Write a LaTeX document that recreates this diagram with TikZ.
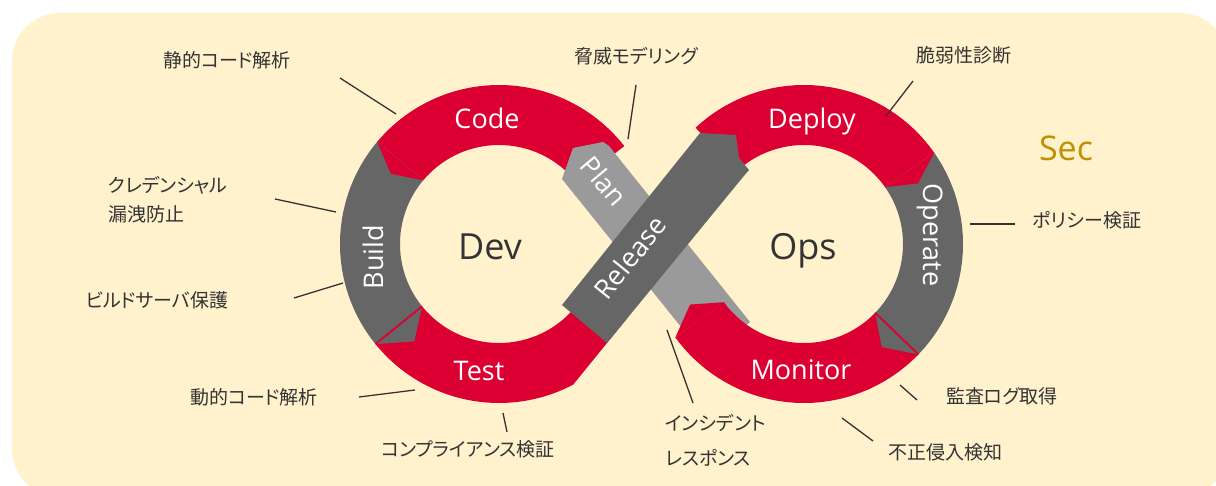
\documentclass[tikz,border=0pt]{standalone}
\usepackage{fontspec}
\setmainfont{Open Sans}
\newfontfamily\jpfont[RawFeature=+palt]{Noto Sans CJK JP}

\definecolor{panel}{HTML}{FFF2CC}
\definecolor{segred}{HTML}{DC0032}
\definecolor{darkseg}{HTML}{666666}
\definecolor{lightseg}{HTML}{9A9A9A}
\definecolor{ink}{HTML}{333333}
\definecolor{gold}{HTML}{BF9000}

% ring geometry: inner radius 99, outer radius 159, middle 129
% annular sector: centre x, centre y, from angle, to angle, colour
\newcommand\ringarc[5]{%
  \fill[#5] plot[domain=#3:#4,samples=60] ({#1+159*cos(\x)},{#2-159*sin(\x)})
    -- plot[domain=#4:#3,samples=60] ({#1+99*cos(\x)},{#2-99*sin(\x)}) -- cycle;}
% chevron head: centre x, centre y, base angle, tip angle, colour
\newcommand\ringhead[5]{%
  \fill[#5] ({#1+159*cos(#3)},{#2-159*sin(#3)}) -- ({#1+129*cos(#4)},{#2-129*sin(#4)})
    -- ({#1+99*cos(#3)},{#2-99*sin(#3)}) -- cycle;}
% thin seam line across the ring at a given angle
\newcommand\ringseam[3]{%
  \draw[segred,line width=1.8pt] ({#1+159*cos(#3)},{#2-159*sin(#3)}) -- ({#1+99*cos(#3)},{#2-99*sin(#3)});}

\tikzset{
  seglabel/.style={text=white,font=\fontsize{27}{30}\selectfont,inner sep=0pt},
  hublabel/.style={text=ink,font=\fontsize{36}{40}\selectfont,inner sep=0pt},
  note/.style={text=ink,font=\jpfont\fontsize{19}{22}\selectfont,inner sep=0pt},
  leader/.style={draw=ink,line width=1.3pt},
}

\begin{document}
\begin{tikzpicture}[x=1pt,y=-1pt]
\useasboundingbox (0,0) rectangle (1216,486);
\fill[white] (0,0) rectangle (1216,486);
\begin{scope}
  \clip (0,0) rectangle (1216,486);
  \fill[panel,rounded corners=48pt] (12,13) rectangle (1228,497);
\end{scope}

% Dev ring
\ringarc{499}{244}{38}{140}{segred}    % Code
\ringarc{499}{244}{140}{219}{darkseg}  % Build
\begin{scope}
  \clip (922.5,-45) -- (291.5,731) -- (-96.5,415.5) -- (534.5,-360.5) -- cycle;
  \ringarc{499}{244}{219}{330}{segred} % Test
\end{scope}

% Ops ring
\ringarc{804}{244}{35}{133}{segred}    % Deploy
\ringarc{804}{244}{-44}{35}{darkseg}   % Operate

% Plan band
\fill[lightseg] (706,358) -- (750,322) -- (609,146) -- (603,142) -- (573,148) -- (562,179) -- cycle;

\ringarc{804}{244}{-144}{-44}{segred}  % Monitor

% arrow heads between stages
\ringhead{499}{244}{140}{147}{segred}
\ringhead{499}{244}{219}{229}{darkseg}
\ringseam{499}{244}{219}
\ringhead{804}{244}{35}{28}{segred}
\ringhead{804}{244}{-44}{-53}{darkseg}
\ringseam{804}{244}{-44}
\ringhead{804}{244}{-144}{-152}{segred}

% Release band
\fill[darkseg] (562,305) -- (700,133) -- (736,135) -- (739,158) -- (749,170) -- (743,177) -- (607,343) -- cycle;

% stage labels
\node[seglabel,anchor=base] (code) at (487,129) {Code};
\node[seglabel,anchor=base] (test) at (479,381) {Test};
\node[seglabel,anchor=base,rotate=90] (build) at (383,257) {Build};
\node[seglabel,anchor=base] (deploy) at (812,129) {Deploy};
\node[seglabel,anchor=base] (monitor) at (801,380) {Monitor};
\node[seglabel,anchor=base,rotate=-90] (operate) at (923,235) {Operate};
\node[seglabel,rotate=-50] (plan) at (604,181) {Plan};
\node[seglabel,rotate=51] (release) at (630,257) {Release};

\node[hublabel,anchor=base] (dev) at (490,260) {Dev};
\node[hublabel,anchor=base] (ops) at (803,260) {Ops};
\node[text=gold,font=\fontsize{34}{38}\selectfont,inner sep=0pt,anchor=base] (sec) at (1066,161) {Sec};

% security practices
\node[note] (sast) at (227,60) {静的コード解析};
\node[note] (threat) at (636,56) {脅威モデリング};
\node[note] (vuln) at (964,55) {脆弱性診断};
\node[note] (policy) at (1087,220) {ポリシー検証};
\node[note] (audit) at (1002,396) {監査ログ取得};
\node[note] (ids) at (945,452) {不正侵入検知};
\node[note,anchor=west] (ir1) at (665,423) {インシデント};
\node[note,anchor=west] (ir2) at (665,458) {レスポンス};
\node[note] (comp) at (468,449) {コンプライアンス検証};
\node[note] (dast) at (254,397) {動的コード解析};
\node[note] (bsp) at (157,300) {ビルドサーバ保護};
\node[note,anchor=west] (cred1) at (108,185) {クレデンシャル};
\node[note,anchor=west] (cred2) at (108,214) {漏洩防止};

% leader lines
\coordinate (sastA) at (340,78);   \coordinate (sastB) at (396,114);
\coordinate (threatA) at (636,85); \coordinate (threatB) at (628,139);
\coordinate (vulnA) at (913,81);   \coordinate (vulnB) at (886,116);
\coordinate (policyA) at (970,224);\coordinate (policyB) at (1015,224);
\coordinate (auditA) at (900,385); \coordinate (auditB) at (917,400);
\coordinate (idsA) at (842,418);   \coordinate (idsB) at (873,441);
\coordinate (irA) at (667,330);    \coordinate (irB) at (693,403);
\coordinate (compA) at (503,413);  \coordinate (compB) at (507,432);
\coordinate (dastA) at (359,397);  \coordinate (dastB) at (415,390);
\coordinate (bspA) at (294,298);   \coordinate (bspB) at (343,283);
\coordinate (credA) at (275,199);  \coordinate (credB) at (336,212);
\foreach \n in {sast,threat,vuln,policy,audit,ids,ir,comp,dast,bsp,cred}
  \draw[leader] (\n A) -- (\n B);
\end{tikzpicture}
\end{document}
